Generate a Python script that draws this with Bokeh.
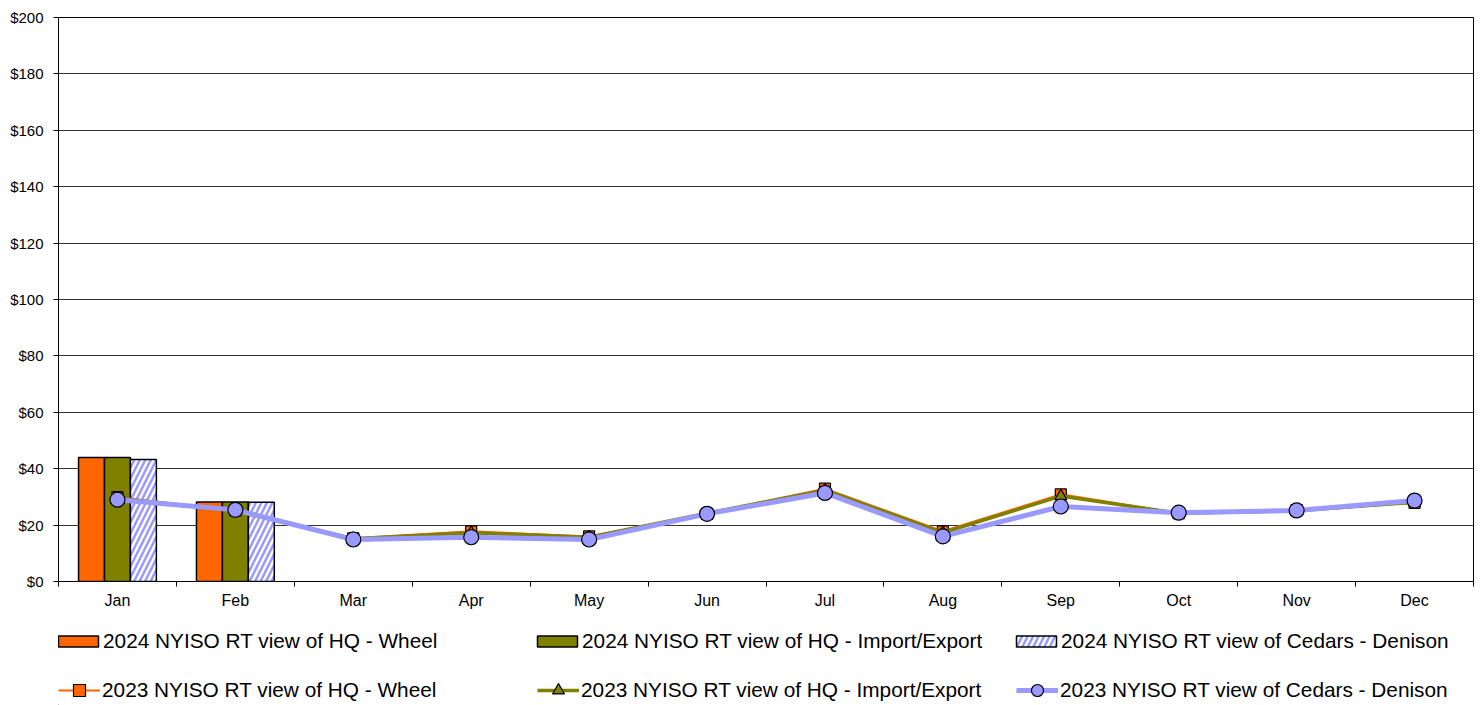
from bokeh.plotting import figure
from bokeh.layouts import column
from bokeh.models import (Legend, LegendItem, FixedTicker, NumeralTickFormatter, Range1d)
from bokeh.embed import file_html
from bokeh.resources import INLINE

# ---------------- data ----------------
months = ["Jan", "Feb", "Mar", "Apr", "May", "Jun", "Jul", "Aug", "Sep", "Oct", "Nov", "Dec"]
months_2024 = ["Jan", "Feb"]
wheel_2024 = [44.0, 28.2]
impexp_2024 = [44.0, 28.2]
cedars_2024 = [43.3, 28.1]

wheel_2023 = [29.9, 25.2, 15.3, 17.8, 16.0, 24.0, 32.9, 17.8, 30.9, 24.2, 25.3, 27.9]
impexp_2023 = [29.5, 25.0, 15.2, 17.3, 15.7, 24.2, 32.4, 17.3, 30.3, 24.2, 25.1, 28.1]
cedars_2023 = [29.0, 25.4, 14.9, 15.7, 14.9, 24.0, 31.4, 16.0, 26.6, 24.4, 25.2, 28.7]

y_ticks = list(range(0, 201, 20))

label_b1 = "2024 NYISO RT view of HQ - Wheel"
label_b2 = "2024 NYISO RT view of HQ - Import/Export"
label_b3 = "2024 NYISO RT view of Cedars - Denison"
label_l1 = "2023 NYISO RT view of HQ - Wheel"
label_l2 = "2023 NYISO RT view of HQ - Import/Export"
label_l3 = "2023 NYISO RT view of Cedars - Denison"

# ---------------- style ----------------
FONT = "Liberation Sans"
ORANGE = "#FF6600"
OLIVE = "#808000"
LAV = "#9999FF"
BAR_W = 0.22

BAR1 = dict(fill_color=ORANGE, line_color="black", line_width=1.5)
BAR2 = dict(fill_color=OLIVE, line_color="black", line_width=1.5)
BAR3 = dict(fill_color=LAV, line_color="black", line_width=1.5,
            hatch_pattern="/", hatch_color="white", hatch_weight=2.5, hatch_scale=11)
LN1 = dict(line_color=ORANGE, line_width=2)
LN2 = dict(line_color=OLIVE, line_width=3.5)
LN3 = dict(line_color=LAV, line_width=5)
MK1 = dict(marker="square", size=11, fill_color=ORANGE, line_color="black", line_width=1.2)
MK2 = dict(marker="triangle", size=12, fill_color=OLIVE, line_color="black", line_width=1.2)
MK3 = dict(marker="circle", size=15, fill_color=LAV, line_color="black", line_width=1.2)

# category centres from the month index
xc = [months.index(m) + 0.5 for m in months]
xb = [months.index(m) + 0.5 for m in months_2024]

p = figure(frame_width=1415, frame_height=564,
           x_range=Range1d(0, len(months)), y_range=Range1d(0, 200),
           output_backend="svg", toolbar_location=None,
           min_border_left=58, min_border_top=17, min_border_right=1, min_border_bottom=40)
p.background_fill_color = "white"
p.border_fill_color = "white"
p.outline_line_color = "black"
p.outline_line_width = 1

p.vbar(x=[x - BAR_W for x in xb], top=wheel_2024, width=BAR_W, **BAR1)
p.vbar(x=xb, top=impexp_2024, width=BAR_W, **BAR2)
p.vbar(x=[x + BAR_W for x in xb], top=cedars_2024, width=BAR_W, **BAR3)

p.line(xc, wheel_2023, **LN1)
p.scatter(xc, wheel_2023, **MK1)
p.line(xc, impexp_2023, **LN2)
p.scatter(xc, impexp_2023, **MK2)
p.line(xc, cedars_2023, **LN3)
p.scatter(xc, cedars_2023, **MK3)

# x axis: labels at centres, ticks at category boundaries
xa = p.xaxis[0]
xa.ticker = FixedTicker(ticks=xc, minor_ticks=list(range(len(months) + 1)))
xa.major_label_overrides = {x: m for x, m in zip(xc, months)}
xa.major_tick_out = 0
xa.major_tick_in = 0
xa.minor_tick_out = 5
xa.minor_tick_in = 0
xa.minor_tick_line_color = "black"
xa.axis_line_color = "black"
xa.major_label_standoff = 5
xa.major_label_text_font = FONT
xa.major_label_text_font_size = "16px"
xa.major_label_text_color = "black"

ya = p.yaxis[0]
ya.ticker = FixedTicker(ticks=y_ticks)
ya.formatter = NumeralTickFormatter(format="$0")
ya.major_tick_out = 5
ya.major_tick_in = 0
ya.minor_tick_line_color = None
ya.axis_line_color = "black"
ya.major_label_standoff = 10
ya.major_label_text_font = FONT
ya.major_label_text_font_size = "15px"
ya.major_label_text_color = "black"

p.xgrid.visible = False
p.ygrid.ticker = FixedTicker(ticks=y_ticks)
p.ygrid.grid_line_color = "#333333"
p.ygrid.grid_line_width = 1

# ---------------- legend strip ----------------
# legend swatches come from stand-in renderers whose single point lies
# outside this strip's ranges, so only their legend glyphs are seen
leg = figure(width=1474, height=84, x_axis_type=None, y_axis_type=None,
             x_range=Range1d(0, 1), y_range=Range1d(0, 1),
             output_backend="svg", toolbar_location=None,
             min_border_left=0, min_border_top=0, min_border_right=0, min_border_bottom=0)
leg.outline_line_color = None
leg.background_fill_color = "white"
leg.border_fill_color = "white"

off = [-5]
e1 = leg.vbar(x=off, top=off, width=0.1, **BAR1)
e2 = leg.vbar(x=off, top=off, width=0.1, **BAR2)
e3 = leg.vbar(x=off, top=off, width=0.1, **BAR3)
f1 = leg.line(x=off, y=off, **LN1)
g1 = leg.scatter(x=off, y=off, **MK1)
f2 = leg.line(x=off, y=off, **LN2)
g2 = leg.scatter(x=off, y=off, **MK2)
f3 = leg.line(x=off, y=off, **LN3)
g3 = leg.scatter(x=off, y=off, **MK3)

COMMON = dict(orientation="horizontal", margin=0, padding=0,
              label_text_font=FONT, label_text_font_size="20.8px",
              label_text_color="black", border_line_alpha=0, background_fill_alpha=0)

# the strip's frame is aligned with the chart frame by the column layout
legend_bars = Legend(items=[
    LegendItem(label=label_b1, renderers=[e1]),
    LegendItem(label=label_b2, renderers=[e2]),
    LegendItem(label=label_b3, renderers=[e3]),
], location=(-5, 52), spacing=20, glyph_width=50, glyph_height=14,
    label_width=409, label_height=20, label_standoff=0, **COMMON)

legend_lines = Legend(items=[
    LegendItem(label=label_l1, renderers=[f1, g1]),
    LegendItem(label=label_l2, renderers=[f2, g2]),
    LegendItem(label=label_l3, renderers=[f3, g3]),
], location=(0, 0), spacing=20, glyph_width=42, glyph_height=30,
    label_width=415, label_height=20, label_standoff=2, **COMMON)

leg.add_layout(legend_bars, "center")
leg.add_layout(legend_lines, "center")

layout = column(p, leg, spacing=0)
open("out.html", "w").write(file_html(layout, INLINE))
